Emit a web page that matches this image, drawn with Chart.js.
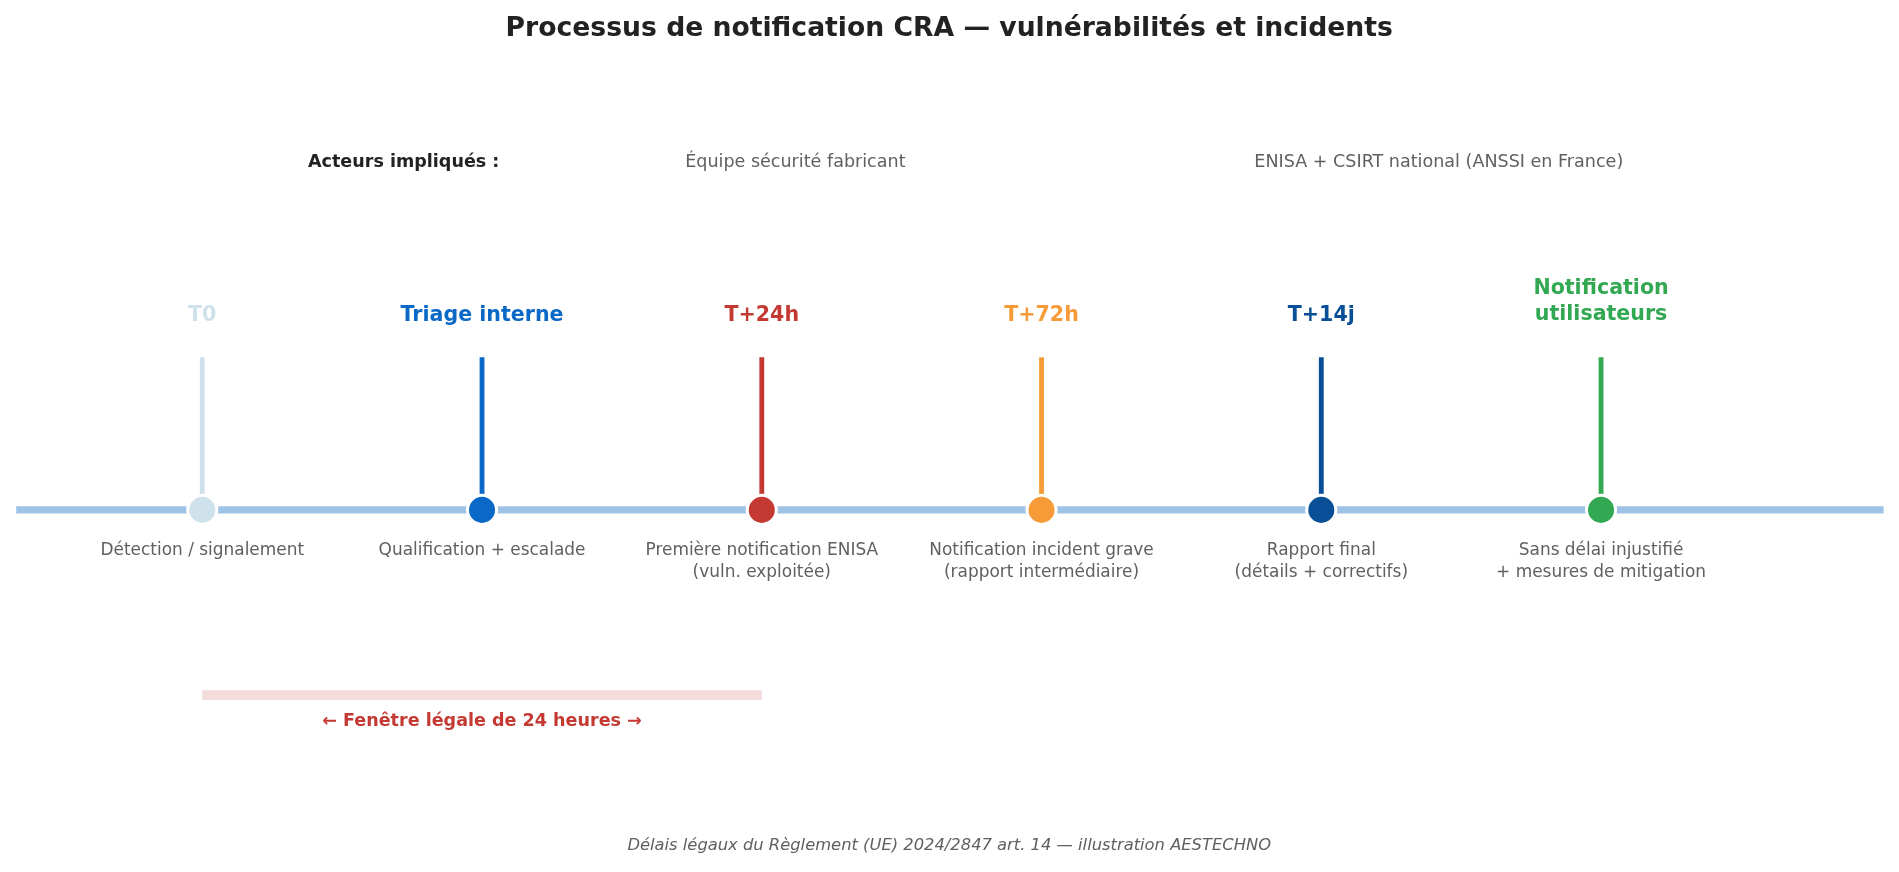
<!DOCTYPE html>
<html><head><meta charset="utf-8">
<script src="https://cdn.jsdelivr.net/npm/chart.js@4/dist/chart.umd.min.js"></script>
<style>html,body{margin:0;padding:0;background:#fff}canvas{display:block}</style>
</head><body>
<canvas id="c" width="1899" height="872"></canvas>
<script>
const steps = [0,1,2,3,4,5];
const labels = [["T0"],["Triage interne"],["T+24h"],["T+72h"],["T+14j"],["Notification","utilisateurs"]];
const descriptions = [["Détection / signalement"],["Qualification + escalade"],["Première notification ENISA","(vuln. exploitée)"],["Notification incident grave","(rapport intermédiaire)"],["Rapport final","(détails + correctifs)"],["Sans délai injustifié","+ mesures de mitigation"]];
const colors = ["#cfe2ec","#0a68c6","#c43a33","#f79b38","#084f98","#33a852"];
const actors = [{x:0.72,t:"Acteurs impliqués :",b:true},{x:2.12,t:"Équipe sécurité fabricant"},{x:4.42,t:"ENISA + CSIRT national (ANSSI en France)"}];
const windowRange = [0,2];
const S = 1899/1568;
const stemTop = 126, baseY = 0;

const datasets = [];
datasets.push({type:'line',data:[{x:-0.665,y:baseY},{x:6.01,y:baseY}],borderColor:'#9fc3e6',borderWidth:6*S,pointRadius:0,order:3});
steps.forEach((s,i)=>datasets.push({type:'line',data:[{x:s,y:baseY},{x:s,y:stemTop}],borderColor:colors[i],borderWidth:4*S,pointRadius:0,order:2}));
datasets.push({type:'line',data:[{x:windowRange[0],y:-153},{x:windowRange[1],y:-153}],borderColor:'#f5dcdc',borderWidth:8*S,pointRadius:0,order:3});
datasets.push({type:'scatter',data:steps.map(s=>({x:s,y:baseY})),backgroundColor:colors,borderColor:'#fff',borderWidth:2.5*S,pointRadius:12*S,pointHoverRadius:12*S,order:1});

const textPlugin={id:'txt',afterDraw(ch){
 const c=ch.ctx,xs=ch.scales.x,ys=ch.scales.y;
 const X=v=>xs.getPixelForValue(v), Y=p=>ys.getPixelForValue(421-p);
 c.save();c.textAlign='center';c.textBaseline='middle';
 c.fillStyle='#222';c.font=`bold ${22*S}px "DejaVu Sans"`;c.fillText("Processus de notification CRA — vulnérabilités et incidents",X(2.67),Y(24));
 actors.forEach(a=>{c.fillStyle=a.b?'#222':'#606060';c.font=`${a.b?'bold ':''}${14.5*S}px "DejaVu Sans"`;c.fillText(a.t,X(a.x),Y(134));});
 steps.forEach((s,i)=>{
  c.fillStyle=colors[i];c.font=`bold ${17*S}px "DejaVu Sans"`;
  const L=labels[i];const y0=L.length>1?238:261;
  L.forEach((t,k)=>c.fillText(t,X(s),Y(y0+k*22)));
  c.fillStyle='#606060';c.font=`${14*S}px "DejaVu Sans"`;
  descriptions[i].forEach((t,k)=>c.fillText(t,X(s),Y(455+k*18)));
 });
 c.fillStyle='#c43a33';c.font=`bold ${14.5*S}px "DejaVu Sans"`;c.fillText("← Fenêtre légale de 24 heures →",X(1),Y(596));
 c.fillStyle='#606060';c.font=`italic ${13.5*S}px "DejaVu Sans"`;c.fillText("Délais légaux du Règlement (UE) 2024/2847 art. 14 — illustration AESTECHNO",X(2.67),Y(698));
 c.restore();
}};

new Chart(document.getElementById('c'),{data:{datasets},plugins:[textPlugin],options:{
 responsive:false,animation:false,layout:{padding:0,autoPadding:false},
 plugins:{legend:{display:false},tooltip:{enabled:false},title:{display:false}},
 scales:{x:{type:'linear',display:false,min:-0.723,max:6.065},y:{type:'linear',display:false,min:-299,max:421}}
}});
</script>
</body></html>
